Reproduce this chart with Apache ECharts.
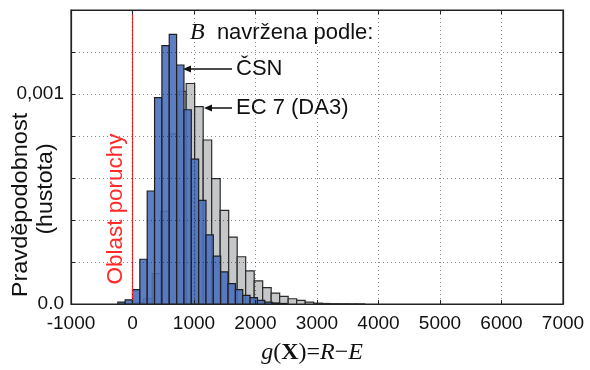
<!DOCTYPE html>
<html><head><meta charset="utf-8">
<script src="https://cdn.jsdelivr.net/npm/echarts@6/dist/echarts.min.js"></script>
<style>html,body{margin:0;padding:0;background:#fff}#c{width:590px;height:370px}</style>
</head><body><div id="c"></div>
<script>
// x axis ticks
const xTicks = [-1000, 0, 1000, 2000, 3000, 4000, 5000, 6000, 7000];
// blue histogram (ČSN)
const blueBinWidth = 119.5;
const blueBinLeft = [-239, -119.5, 0, 119.5, 239, 358.5, 478, 597.5, 717, 836.5, 956, 1075.5, 1195, 1314.5, 1434, 1553.5, 1673, 1792.5, 1912, 2031.5, 2151, 2270.5, 2390];
const blueDensity = [0.0000087, 0.000020, 0.000068, 0.000213, 0.000538, 0.000983, 0.00123, 0.001284, 0.001138, 0.000925, 0.00069, 0.000493, 0.000329, 0.000228, 0.000153, 0.000097, 0.000068, 0.000041, 0.00003, 0.000017, 0.0000087, 0.000005, 0.0000025];
// gray histogram (EC 7 DA3)
const grayBinWidth = 138.2;
const grayBinLeft = [-94.4, 43.8, 182, 320.2, 458.4, 596.6, 734.8, 873, 1011.2, 1149.4, 1287.6, 1425.8, 1564, 1702.2, 1840.4, 1978.6, 2116.8, 2255, 2393.2, 2531.4, 2669.6, 2807.8, 2946, 3084.2, 3222.4, 3360.6, 3498.8, 3637];
const grayDensity = [0.0000024, 0.0000072, 0.000025, 0.000145, 0.000441, 0.00081, 0.001013, 0.00105, 0.00094, 0.000781, 0.000597, 0.000446, 0.000318, 0.000225, 0.000158, 0.00011, 0.000078, 0.000052, 0.000036, 0.000025, 0.000017, 0.0000087, 0.000004, 0.0000024, 0.0000015, 0.0000012, 0.0000008, 0.0000005];

const SANS = 'Liberation Sans, Arial, sans-serif';
const SERIF = 'Liberation Serif, Times New Roman, serif';

function histSeries(name, left, width, dens, fill, stroke, z, extra) {
  return Object.assign({
    type: 'custom', name: name, z: z, clip: true,
    data: dens.map((d, i) => [left[i], left[i] + width, d]),
    encode: { x: [0, 1], y: 2 },
    renderItem: function (params, api) {
      const p0 = api.coord([api.value(0), api.value(2)]);
      const p1 = api.coord([api.value(1), 0]);
      return { type: 'rect', shape: { x: p0[0], y: p0[1], width: p1[0] - p0[0], height: p1[1] - p0[1] },
        style: { fill: fill, stroke: stroke, lineWidth: 1.2 } };
    }
  }, extra || {});
}

const gridDot = { show: true, lineStyle: { type: [1, 3], color: 'rgba(0,0,0,0.45)', width: 1 } };

const chart = echarts.init(document.getElementById('c'), null, { renderer: 'canvas' });
chart.setOption({
  animation: false,
  backgroundColor: '#fff',
  grid: { left: 71, right: 27, top: 10, bottom: 66, show: true, borderColor: '#222', borderWidth: 1.2, backgroundColor: 'transparent' },
  xAxis: [{
    type: 'value', min: xTicks[0], max: xTicks[xTicks.length - 1], interval: 1000, z: 5,
    axisLine: { show: true, onZero: false, lineStyle: { color: '#222', width: 1.2 } },
    axisTick: { show: true, inside: true, length: 4, lineStyle: { color: '#222' } },
    axisLabel: { color: '#111', fontSize: 19, fontFamily: SANS, margin: 10, formatter: function (v) { return String(v); } },
    splitLine: gridDot
  }, {
    type: 'value', position: 'top', min: xTicks[0], max: xTicks[xTicks.length - 1], interval: 1000, z: 5,
    axisLine: { show: true, onZero: false, lineStyle: { color: '#222', width: 1.2 } },
    axisTick: { show: true, inside: true, length: 4, lineStyle: { color: '#222' } },
    axisLabel: { show: false }, splitLine: { show: false }
  }],
  yAxis: [{
    type: 'value', min: 0, max: 0.0014, interval: 0.0002, z: 5,
    axisLine: { show: true, onZero: false, lineStyle: { color: '#222', width: 1.2 } },
    axisTick: { show: true, inside: true, length: 4, lineStyle: { color: '#222' } },
    axisLabel: { color: '#111', fontSize: 19, fontFamily: SANS, margin: 7,
      formatter: function (v) { if (v === 0) return '0.0'; if (Math.abs(v - 0.001) < 1e-9) return '0,001'; return ''; } },
    splitLine: gridDot
  }, {
    type: 'value', position: 'right', min: 0, max: 0.0014, interval: 0.0002, z: 5,
    axisLine: { show: true, onZero: false, lineStyle: { color: '#222', width: 1.2 } },
    axisTick: { show: true, inside: true, length: 4, lineStyle: { color: '#222' } },
    axisLabel: { show: false }, splitLine: { show: false }
  }],
  series: [
    histSeries('EC 7 (DA3)', grayBinLeft, grayBinWidth, grayDensity, '#c5c7c9', '#2b2b2b', 1, {
      markLine: { silent: true, symbol: 'none', label: { show: false }, z: 3,
        lineStyle: { color: '#ff2a2a', width: 1.2, type: 'solid' }, data: [{ xAxis: 0 }] }
    }),
    histSeries('ČSN', blueBinLeft, blueBinWidth, blueDensity, 'rgba(75,112,188,0.9)', '#1f1f1f', 2)
  ],
  graphic: [
    { type: 'text', x: 21, y: 205, rotation: Math.PI / 2, scaleX: 1.07, z: 10,
      style: { text: 'Pravděpodobnost', font: '22px ' + SANS, fill: '#111', align: 'center', verticalAlign: 'middle' } },
    { type: 'text', x: 46, y: 189, rotation: Math.PI / 2, scaleX: 1.05, z: 10,
      style: { text: '(hustota)', font: '22px ' + SANS, fill: '#111', align: 'center', verticalAlign: 'middle' } },
    { type: 'text', x: 116, y: 209, rotation: Math.PI / 2, scaleX: 1.02, z: 10,
      style: { text: 'Oblast poruchy', font: '22px ' + SANS, fill: '#ff2a2a', align: 'center', verticalAlign: 'middle' } },
    { type: 'text', x: 190, y: 33, z: 10,
      style: { text: '{b|B}  navržena podle:', font: '22px ' + SANS, fill: '#111', align: 'left', verticalAlign: 'middle',
        rich: { b: { fontFamily: SERIF, fontStyle: 'italic', fontSize: 24, fill: '#111' } } } },
    { type: 'text', x: 236, y: 69, z: 10,
      style: { text: 'ČSN', font: '22px ' + SANS, fill: '#111', align: 'left', verticalAlign: 'middle' } },
    { type: 'text', x: 236, y: 108, z: 10,
      style: { text: 'EC 7 (DA3)', font: '22px ' + SANS, fill: '#111', align: 'left', verticalAlign: 'middle' } },
    { type: 'line', z: 10, shape: { x1: 232, y1: 69, x2: 188, y2: 69 }, style: { stroke: '#111', lineWidth: 1.5 } },
    { type: 'polygon', z: 10, shape: { points: [[183, 69], [191, 65.5], [191, 72.5]] }, style: { fill: '#111' } },
    { type: 'line', z: 10, shape: { x1: 232, y1: 108, x2: 209, y2: 108 }, style: { stroke: '#111', lineWidth: 1.5 } },
    { type: 'polygon', z: 10, shape: { points: [[204, 108], [212, 104.5], [212, 111.5]] }, style: { fill: '#111' } },
    { type: 'text', x: 312, y: 353, z: 10,
      style: { text: '{i|g}{r|(}{b|X}{r|)=}{i|R}{r|−}{i|E}', align: 'center', verticalAlign: 'middle',
        rich: {
          i: { fontFamily: SERIF, fontStyle: 'italic', fontSize: 24, fill: '#111' },
          r: { fontFamily: SERIF, fontSize: 24, fill: '#111' },
          b: { fontFamily: SERIF, fontWeight: 'bold', fontSize: 24, fill: '#111' }
        } } }
  ]
});
</script></body></html>
